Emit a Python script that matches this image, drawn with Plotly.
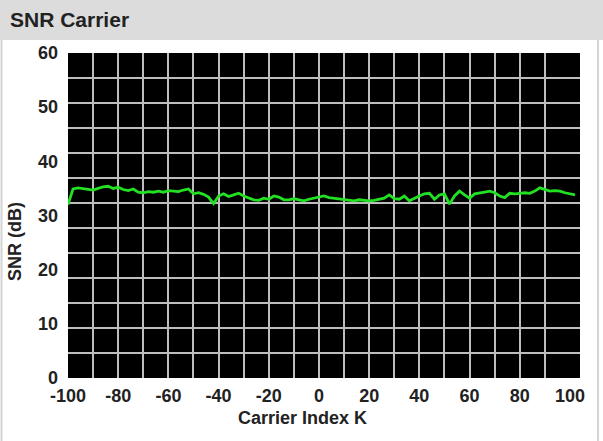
import plotly.graph_objects as go

# ---- data ----
carrier_index = list(range(-100, 104, 2))
snr_db = [
    32.0, 34.9, 35.1, 35.0, 34.8, 34.7, 35.0, 35.3, 35.4, 35.0,
    35.2, 34.8, 34.6, 34.9, 34.3, 34.2, 34.4, 34.3, 34.5, 34.3,
    34.6, 34.5, 34.4, 34.7, 34.9, 34.0, 34.2, 33.9, 33.4, 32.2,
    33.6, 34.0, 33.5, 33.8, 34.1, 33.6, 33.3, 32.9, 32.8, 33.2,
    33.0, 33.6, 33.4, 32.9, 32.9, 33.1, 32.9, 32.7, 33.0, 33.2,
    33.4, 33.6, 33.3, 33.2, 33.1, 33.0, 32.8, 32.7, 32.9, 32.8,
    32.7, 32.8, 33.0, 33.2, 33.8, 33.1, 33.0, 33.6, 32.7, 33.2,
    33.6, 34.0, 34.1, 33.0, 33.8, 34.0, 32.1, 33.6, 34.5, 33.8,
    33.2, 34.0, 34.1, 34.3, 34.5, 34.2, 33.6, 33.3, 34.1, 34.0,
    34.1, 34.2, 34.1, 34.5, 35.1, 34.8, 34.5, 34.6, 34.5, 34.2,
    34.0, 33.8,
]
x_tick_vals = [-100, -80, -60, -40, -20, 0, 20, 40, 60, 80, 100]
x_tick_text = ["-100", "-80", "-60", "-40", "-20", "0", "20", "40", "60", "80", "100"]
y_tick_vals = [0, 10, 20, 30, 40, 50, 60]
y_tick_text = ["0", "10", "20", "30", "40", "50", "60"]
x_grid_vals = [-90, -80, -70, -60, -50, -40, -30, -20, -10, 0, 10, 20, 30, 40, 50, 60, 70, 80, 90]
y_grid_divisions = 13

title_text = "SNR Carrier"
x_title = "Carrier Index K"
y_title = "SNR (dB)"

# ---- layout geometry ----
W, H = 603, 441
L, R, T, B = 68, 23, 53, 63
PW = W - L - R
PH = H - T - B

def px_x(px):
    return (px - L) / PW

def px_y(py):
    return (H - B - py) / PH

X_RANGE = [-100, 104]
TXT = "#222222"
GRID = "#bdbdbd"
FONT = "Arial, Liberation Sans"

fig = go.Figure()
fig.add_trace(go.Scatter(
    x=carrier_index, y=snr_db, mode="lines",
    line=dict(color="#22e022", width=2.8),
    showlegend=False, hoverinfo="skip", xaxis="x", yaxis="y",
))
# invisible trace to activate the grid axes
fig.add_trace(go.Scatter(
    x=[X_RANGE[0]], y=[0], mode="markers", marker=dict(opacity=0),
    showlegend=False, hoverinfo="skip", xaxis="x2", yaxis="y2",
))

tickfont = dict(family=FONT, size=18, color=TXT, weight="bold")

fig.update_layout(
    width=W, height=H,
    margin=dict(l=L, r=R, t=T, b=B),
    paper_bgcolor="white",
    plot_bgcolor="black",
    xaxis=dict(range=X_RANGE, tickvals=x_tick_vals, ticktext=x_tick_text,
               showgrid=False, zeroline=False, showline=False, ticks="",
               tickfont=tickfont, ticklabelstandoff=5, fixedrange=True),
    yaxis=dict(range=[0, 60], tickvals=y_tick_vals, ticktext=y_tick_text,
               showgrid=False, zeroline=False, showline=False, ticks="",
               tickfont=tickfont, ticklabelstandoff=9, fixedrange=True),
    xaxis2=dict(overlaying="x", range=X_RANGE, tickvals=x_grid_vals, showgrid=True,
                gridcolor=GRID, gridwidth=2, showticklabels=False, zeroline=False,
                ticks="", side="top", fixedrange=True),
    yaxis2=dict(overlaying="y", range=[0, y_grid_divisions], dtick=1, showgrid=True,
                gridcolor=GRID, gridwidth=2, showticklabels=False, zeroline=False,
                ticks="", side="right", fixedrange=True),
    shapes=[
        dict(type="rect", xref="paper", yref="paper", x0=px_x(-5), x1=px_x(W + 5),
             y0=px_y(40), y1=px_y(-5), fillcolor="#dcdcdc", line=dict(width=0),
             layer="below"),
        dict(type="line", xref="paper", yref="paper", x0=px_x(1.5), x1=px_x(1.5),
             y0=px_y(40), y1=px_y(H + 5), line=dict(color="#d4d4d4", width=2)),
        dict(type="line", xref="paper", yref="paper", x0=px_x(598), x1=px_x(598),
             y0=px_y(40), y1=px_y(H + 5), line=dict(color="#d4d4d4", width=2)),
    ],
    annotations=[
        dict(text=title_text, xref="paper", yref="paper", x=px_x(8), y=px_y(20),
             xanchor="left", yanchor="middle", showarrow=False,
             font=dict(family=FONT, size=21, color=TXT, weight="bold")),
        dict(text=x_title, xref="paper", yref="paper", x=px_x(302), y=px_y(418),
             xanchor="center", yanchor="middle", showarrow=False,
             font=dict(family=FONT, size=18, color=TXT, weight="bold")),
        dict(text=y_title, xref="paper", yref="paper", x=px_x(15), y=px_y(242),
             xanchor="center", yanchor="middle", showarrow=False, textangle=-90,
             font=dict(family=FONT, size=18, color=TXT, weight="bold")),
    ],
)

fig.write_html("out.html", config={"displayModeBar": False},
               post_script="document.body.style.margin='0';")
